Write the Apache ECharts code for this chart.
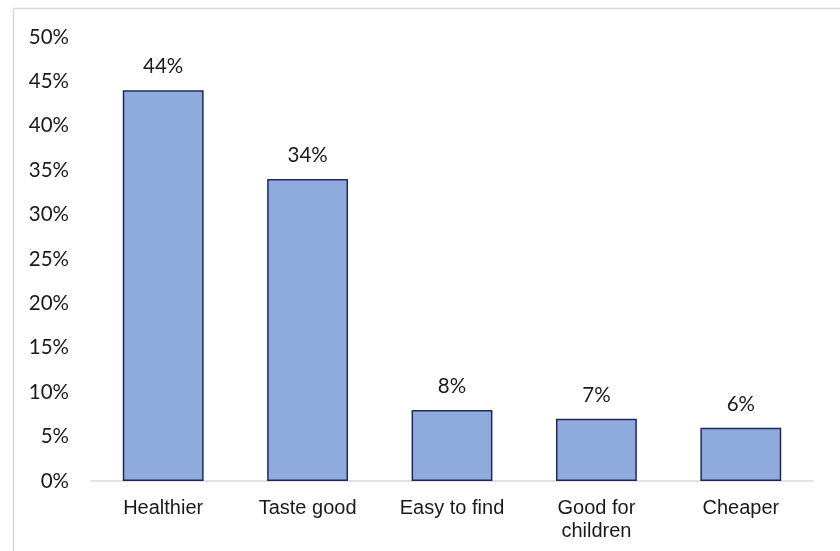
<!DOCTYPE html>
<html><head><meta charset="utf-8">
<script src="https://cdn.jsdelivr.net/npm/echarts@6/dist/echarts.min.js"></script>
<style>html,body{margin:0;padding:0;background:#fff}#c{width:840px;height:551px}</style>
</head><body><div id="c"></div>
<script>
const categories = ['Healthier', 'Taste good', 'Easy to find', 'Good for\nchildren', 'Cheaper'];
const values = [44, 34, 8, 7, 6];
const yTicks = { min: 0, max: 50, interval: 5 };

const chart = echarts.init(document.getElementById('c'), null, { renderer: 'canvas' });
chart.setOption({
  animation: false,
  backgroundColor: '#fff',
  graphic: [
    { type: 'line', shape: { x1: 13.5, y1: 8.5, x2: 840, y2: 8.5 }, style: { stroke: '#d9d9d9', lineWidth: 1.5 } },
    { type: 'line', shape: { x1: 13.5, y1: 8.5, x2: 13.5, y2: 551 }, style: { stroke: '#d9d9d9', lineWidth: 1.5 } }
  ],
  grid: { left: 91, right: 27, top: 37, bottom: 70, containLabel: false },
  xAxis: {
    type: 'category',
    data: categories,
    axisLine: { lineStyle: { color: '#d9d9d9', width: 1.5 } },
    axisTick: { show: false },
    axisLabel: { color: '#1a1a1a', fontFamily: 'Liberation Sans, Arial', fontSize: 20, margin: 16, lineHeight: 23, interval: 0 }
  },
  yAxis: {
    type: 'value',
    min: yTicks.min, max: yTicks.max, interval: yTicks.interval,
    axisLine: { show: false },
    axisTick: { show: false },
    splitLine: { show: false },
    axisLabel: { color: '#1a1a1a', fontFamily: 'Lato, Carlito, sans-serif', fontSize: 20.5, margin: 22, formatter: v => v + '%' }
  },
  series: [{
    type: 'bar',
    data: values,
    barWidth: '56%',
    itemStyle: { color: '#8faadc', borderColor: '#1f2a5a', borderWidth: 1.5 },
    label: { show: true, position: 'top', distance: 13, color: '#1a1a1a', fontFamily: 'Lato, Carlito, sans-serif', fontSize: 20.5, formatter: p => p.value + '%' }
  }]
});
</script></body></html>
